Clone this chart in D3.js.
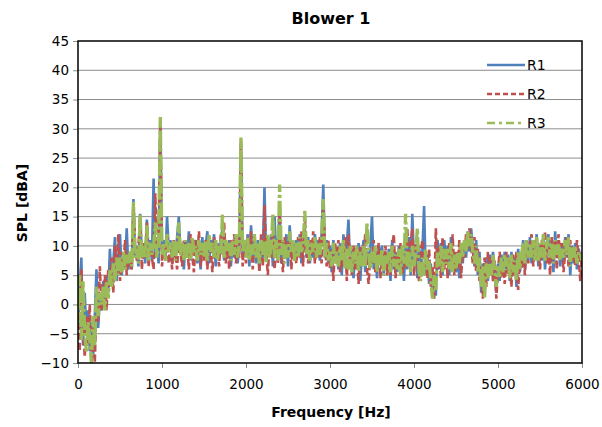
<!DOCTYPE html>
<html>
<head>
<meta charset="utf-8">
<script src="https://cdn.jsdelivr.net/npm/d3@7"></script>
<style>
  body { margin: 0; background: #fff; }
  text { font-family: 'DejaVu Sans', Verdana, sans-serif; fill: #000; }
</style>
</head>
<body>
<div id="chart"></div>
<script>
// Sample spacing of the spectra (Hz)
const freqStep = 20;

// SPL readings, one value every 20 Hz from 0 to 6000 Hz
const r1 = [
  -4, 3, 8, -7, 2, -5, -1, -8, -3, -9, -2, 6, -4, 1, -1, 4, 0, 5, 2, 9.5, 3, 7, 11.5, 4, 8,
  12, 5, 8, 6, 13, 6, 9, 6, 18, 8, 10, 6.5, 15.5, 8, 10, 7, 14.5, 9, 11, 7.5, 21.5, 8, 10.5, 7, 32,
  9, 11, 7.5, 15, 9.5, 11, 7, 10.5, 8, 11.5, 15, 8.5, 10, 6, 11, 8, 12.5, 7.5, 10, 9, 11, 7, 10.5, 6, 11.5,
  8, 10, 12.5, 7, 11, 9, 12, 6.5, 10.5, 8, 11, 13, 7.5, 10, 8.5, 11, 6.5, 10.5, 8, 11.5, 7, 10, 28, 8, 11,
  9, 12, 6.5, 13.5, 8, 10.5, 7, 11, 6, 10, 8, 20, 7.5, 11, 9, 12, 6.5, 15, 8, 10.5, 16, 7, 11, 9, 12,
  6.5, 13.5, 8, 10.5, 7.5, 11, 8.5, 12, 7, 10, 13, 8, 11.5, 7, 10.5, 8, 12, 9, 11, 7.5, 12, 20.5, 8, 11, 7,
  10, 5.5, 11, 7.5, 9.5, 6, 10.5, 5, 12, 7, 10, 14.5, 6, 9.5, 4.5, 9, 6.5, 10.5, 4, 8.5, 11, 5.5, 9, 7, 10,
  15, 6, 9.5, 4.5, 10, 7.5, 10, 5, 9, 6.5, 9.5, 4, 11, 6, 9, 5.5, 10, 7, 9.5, 4, 10, 6, 11.5, 5, 15.5,
  7, 9.5, 4.5, 10, 6, 9, 16.8, 5, 8.5, 3.5, 7, 2, 5, 1.5, 11, 6, 10.5, 5, 11, 7, 10, 5, 11.5, 6, 9,
  5.5, 8.5, 4.5, 10, 7, 11, 8, 12.5, 9, 13, 10, 6.5, 11, 5, 9, 2, 7, 1.5, 8, 4, 8.5, 5, 9, 6, 2,
  7, 4, 8.5, 5.5, 9, 6, 8.5, 4, 9, 5, 8, 3, 9.5, 5.5, 8, 11, 6, 10, 7.5, 11.5, 7, 10.5, 8, 12, 6.5,
  10, 7.5, 11.5, 6, 10.5, 12, 7, 11, 5.5, 12.5, 8, 11, 6.5, 10, 7, 11.5, 8, 12, 5, 10, 7, 10.5, 6, 9.5, 8,
  6.5
];
const r2 = [
  2, -8, 6, -3, -9, -2, -7, 0, -10, -4, -10, 1, -3, 6.5, -1, 1, 5, -1, 6, 3, 8, 2, 10, 5, 12,
  4, 9, 6, 11, 5, 9, 7, 6, 17.5, 10, 7.5, 10, 15, 6, 10.5, 8, 14, 6.5, 10.5, 8, 6, 19, 9, 11, 31.5,
  6.5, 10, 8, 12, 7, 10.5, 6, 11, 8.5, 6, 12, 9, 6.5, 11, 8, 10, 6, 12, 8.5, 5.5, 11, 8, 12.5, 6.5, 10,
  7.5, 11, 6, 10.5, 9, 5.5, 11.5, 8, 10, 6.5, 12, 8.5, 14, 7, 10.5, 6, 11, 8.5, 12, 7, 10.5, 8, 27.5, 6.5, 11,
  7, 11.5, 9, 12.5, 6, 11, 8, 10, 5.5, 12, 6.5, 17, 9, 5, 11, 8, 12.5, 6, 10, 7, 17, 9, 5.5, 11.5, 8,
  11, 12, 6, 10.5, 9, 7, 11.5, 8, 12.5, 6.5, 15, 9.5, 7, 11, 8.5, 12.5, 7, 10, 8, 11.5, 7, 17, 10, 6.5, 11,
  6, 9.5, 4, 10.5, 7, 11, 5.5, 9, 6.5, 11.5, 4, 12, 7.5, 5, 10, 6, 9.5, 3.5, 10, 7, 8.5, 12, 6, 3.5, 9,
  7, 11, 5.5, 8, 10.5, 4.5, 9, 6.5, 10, 5, 8, 5, 10, 12, 4.5, 9, 6.5, 10.5, 5, 8, 6, 13, 7, 10, 13,
  5, 10.5, 7, 4, 9, 11, 6, 8, 4.5, 9.5, 3, 6.5, 1, 13, 6, 10, 4.5, 11.5, 6, 9.5, 4.5, 10.5, 7, 12, 5,
  9, 6, 11, 4.5, 9.5, 8, 12, 9.5, 13, 10, 7, 11.5, 5.5, 9.5, 4, 6.5, 1, 8, 3, 9, 5.5, 8, 4, 7.5, 1,
  6, 9, 4.5, 7, 3.5, 9, 5, 7.5, 3, 8.5, 5, 9, 2.5, 8, 6, 9.5, 5, 11, 7, 10, 12, 6.5, 11, 8, 10.5,
  6, 11, 8.5, 12.5, 7, 10, 5, 11.5, 7.5, 11, 6, 12, 8, 10.5, 5.5, 9, 11.5, 6.5, 11, 7.5, 10, 6.5, 11, 8, 4,
  9
];
const r3 = [
  -1, 5, -6, 4, -5, -8, -3, -6, -10, -2, -7, 3, -2, 2, 0, 3, -1, 4, 1, 6, 3, 7, 4, 8, 5,
  8, 5.5, 9, 6, 8.5, 7, 9, 6.5, 17.5, 8, 9.5, 7, 15.5, 8, 10, 8, 13.5, 7.5, 10.5, 8.5, 10, 14, 8, 10.5, 32,
  8.5, 10.5, 7.5, 12, 9, 10.5, 8, 11, 7.5, 10, 14, 8.5, 10.5, 7.5, 11, 8, 10.5, 7.5, 11.5, 9, 10, 7.5, 11, 8.5, 10.5,
  8, 11, 7.5, 12, 9, 10.5, 8, 11, 7.5, 10, 8.5, 15.5, 8, 11, 9, 10.5, 7.5, 11, 8.5, 12, 8, 10.5, 28.5, 9, 11,
  8, 11.5, 7.5, 10.5, 8.5, 12, 8, 10.5, 7, 11, 8.5, 11, 7, 12, 8, 10, 15.5, 8, 11, 7.5, 20.5, 8.5, 11, 7, 10.5,
  8, 12.5, 9, 11, 7.5, 10.5, 8, 11.5, 9, 10, 16, 8.5, 11, 7.5, 10.5, 9, 11.5, 8, 10.5, 8.5, 11, 18, 8, 10.5, 7.5,
  9, 6.5, 10.5, 7, 9, 6.5, 10, 7.5, 11, 6, 9.5, 6, 10, 5.5, 9, 7, 10, 5.5, 9, 6.5, 10, 6.5, 14, 9.5, 6,
  9, 7, 10, 5.5, 8.5, 6.5, 9.5, 5, 8.5, 7, 9, 5.5, 10, 6.5, 8.5, 6, 9.5, 5, 10, 7, 15.5, 6.5, 9, 5.5, 10,
  6.5, 9, 13, 5.5, 4, 8, 5, 9.5, 6, 7.5, 4, 1, 5, 2.5, 9, 6.5, 10, 5.5, 9.5, 7, 9.5, 6, 10.5, 5.5, 8.5,
  6, 9, 7, 10.5, 8, 11, 9, 12.5, 10, 12, 9, 7, 10, 5.5, 8, 3, 6.5, 1, 7, 4.5, 7, 5, 8.5, 6, 3,
  6.5, 4.5, 8, 5.5, 8.5, 6.5, 8, 4.5, 8.5, 5.5, 7.5, 4, 9, 6, 8.5, 10.5, 7, 11, 8, 10.5, 8, 11, 7.5, 11.5, 7.5,
  10.5, 8, 12, 7.5, 10, 11.5, 8, 10.5, 7, 11, 8.5, 10.5, 7.5, 9.5, 8, 11, 8.5, 11.5, 6.5, 10, 8, 10, 7, 9, 8.5,
  7.5
];

const seriesNames = ['R1', 'R2', 'R3'];
const seriesColors = ['#4F81BD', '#C0504D', '#9BBB59'];
const seriesDash = [null, '7,3', '15,3,3,3'];
const seriesWidth = [2.6, 2.6, 3.3];
const xTicks = [0, 1000, 2000, 3000, 4000, 5000, 6000];
const yTicks = [-10, -5, 0, 5, 10, 15, 20, 25, 30, 35, 40, 45];

// Layout
const width = 602;
const height = 427;
const margin = { top: 41, right: 20, bottom: 64, left: 78 };
const plotW = width - margin.left - margin.right;
const plotH = height - margin.top - margin.bottom;

const svg = d3.select('#chart')
    .append('svg')
    .attr('width', width)
    .attr('height', height);

const x = d3.scaleLinear().domain([0, 6000]).range([0, plotW]);
const y = d3.scaleLinear().domain([-10, 45]).range([plotH, 0]);

const g = svg.append('g')
    .attr('transform', `translate(${margin.left},${margin.top})`);

// Gridlines
g.append('g')
    .selectAll('line')
    .data(yTicks.slice(1, -1))
    .enter()
    .append('line')
    .attr('x1', 0)
    .attr('x2', plotW)
    .attr('y1', d => y(d))
    .attr('y2', d => y(d))
    .attr('stroke', '#8c8c8c')
    .attr('stroke-width', 1);

// Axes
const yAxis = g.append('g')
    .call(d3.axisLeft(y).tickValues(yTicks).tickSize(5).tickPadding(4));
const xAxis = g.append('g')
    .attr('transform', `translate(0,${plotH})`)
    .call(d3.axisBottom(x).tickValues(xTicks).tickFormat(d3.format('d')).tickSize(5).tickPadding(11));

[xAxis, yAxis].forEach(a => {
    a.select('.domain').remove();
    a.selectAll('line').attr('stroke', '#8c8c8c');
    a.selectAll('text').attr('font-size', '13.5px').attr('fill', '#000');
});

// Clip for the spectra
svg.append('defs').append('clipPath')
    .attr('id', 'plot-clip')
    .append('rect')
    .attr('width', plotW)
    .attr('height', plotH);

const line = d3.line()
    .x((d, i) => x(i * freqStep))
    .y(d => y(d));

const series = [r1, r2, r3];
const lines = g.append('g').attr('clip-path', 'url(#plot-clip)');
series.forEach((vals, k) => {
    lines.append('path')
        .datum(vals)
        .attr('d', line)
        .attr('fill', 'none')
        .attr('stroke', seriesColors[k])
        .attr('stroke-width', seriesWidth[k])
        .attr('stroke-linejoin', 'bevel')
        .attr('stroke-dasharray', seriesDash[k]);
});

// Plot border
g.append('rect')
    .attr('width', plotW)
    .attr('height', plotH)
    .attr('fill', 'none')
    .attr('stroke', '#000')
    .attr('stroke-width', 1.5);

// Legend
const legend = svg.append('g');
seriesNames.forEach((name, k) => {
    const ly = 65 + k * 29;
    legend.append('line')
        .attr('x1', 487)
        .attr('x2', 525)
        .attr('y1', ly)
        .attr('y2', ly)
        .attr('stroke', seriesColors[k])
        .attr('stroke-width', 2.5)
        .attr('stroke-dasharray', k === 2 ? '8,4,3,4' : '5,3');
    legend.select('line:last-child');
    legend.append('text')
        .attr('x', 527)
        .attr('y', ly)
        .attr('dy', '0.35em')
        .attr('font-size', '14px')
        .text(name);
});
legend.select('line').attr('stroke-dasharray', null);

// Titles
svg.append('text')
    .attr('x', 331)
    .attr('y', 24)
    .attr('text-anchor', 'middle')
    .attr('font-size', '16px')
    .attr('font-weight', 'bold')
    .text('Blower 1');

svg.append('text')
    .attr('x', 331)
    .attr('y', 417)
    .attr('text-anchor', 'middle')
    .attr('font-size', '14px')
    .attr('font-weight', 'bold')
    .text('Frequency [Hz]');

svg.append('text')
    .attr('transform', 'translate(27,203) rotate(-90)')
    .attr('text-anchor', 'middle')
    .attr('font-size', '14px')
    .attr('font-weight', 'bold')
    .text('SPL [dBA]');
</script>
</body>
</html>
